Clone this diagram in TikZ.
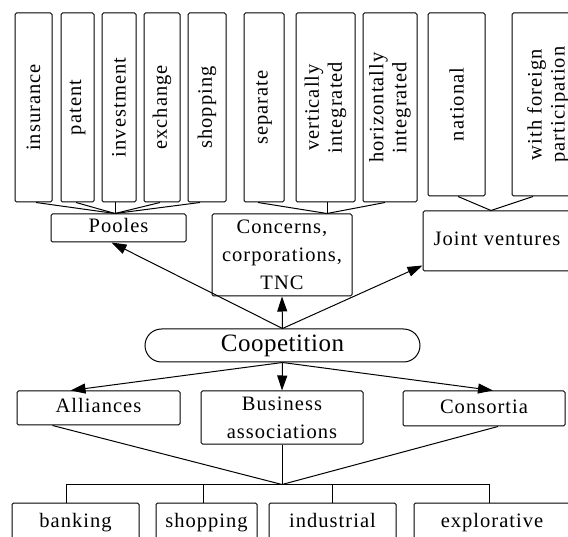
\documentclass[tikz,border=0pt]{standalone}
\usepackage{fontspec}
\setmainfont{Liberation Serif}[LetterSpace=5]
\newfontfamily\coopfont{Liberation Serif}[LetterSpace=2]
\usetikzlibrary{arrows.meta,calc}
\tikzset{
  box/.style={draw, rounded corners=1.5pt, inner sep=0pt, align=center,
    font=\fontsize{20.5}{28}\selectfont},
  vbox/.style={box, rotate=90, font=\fontsize{20.5}{23}\selectfont},
  one/.style={text height=14pt, text depth=4pt},
  arr/.style={-{Triangle[length=15pt,width=10pt]}},
}
\begin{document}
\begin{tikzpicture}[x=1pt,y=-1pt,line width=1pt]
\useasboundingbox (0,0) rectangle (568,537);
\clip (0,0) rectangle (568,537);
% top vertical boxes
\node[vbox, minimum width=189, minimum height=37] (ins) at (33.5,107.5) {insurance};
\node[vbox, minimum width=189, minimum height=33] (pat) at (77.5,107.5) {patent};
\node[vbox, minimum width=189, minimum height=34] (inv) at (119,107.5) {investment};
\node[vbox, minimum width=189, minimum height=36] (exc) at (162,107.5) {exchange};
\node[vbox, minimum width=189, minimum height=38] (shp) at (207,107.5) {shopping};
\node[vbox, minimum width=189, minimum height=40] (sep) at (264,107.5) {separate};
\node[vbox, minimum width=189, minimum height=59] (ver) at (325.5,107.5) {vertically\\integrated};
\node[vbox, minimum width=189, minimum height=54] (hor) at (390,107.5) {horizontally\\integrated};
\node[vbox, minimum width=183, minimum height=57] (nat) at (456.5,104.5) {national};
\node[vbox, minimum width=183, minimum height=72] (for) at (548,104.5) {with foreign\\participation};
% middle row
\node[box, one, minimum width=135, minimum height=28] (pool) at (118.5,228) {Pooles};
\node[box, minimum width=140, minimum height=82] (conc) at (282,255) {Concerns,\\corporations,\\TNC};
\node[box, one, minimum width=148, minimum height=60] (joint) at (497,241) {Joint ventures};
\node[draw, rounded corners=16.5pt, minimum width=275, minimum height=33, inner sep=0pt,
  font=\coopfont\fontsize{25}{30}\selectfont] (coop) at (282.5,345.5) {Coopetition};
\node[box, one, minimum width=163, minimum height=34] (all) at (98.5,408) {Alliances};
\node[box, minimum width=162, minimum height=53] (bus) at (282,417.5) {Business\\associations};
\node[box, one, minimum width=162, minimum height=35] (cons) at (484,408.5) {Consortia};
% bottom row
\node[box, one, minimum width=127, minimum height=38] (bank) at (75.5,522) {banking};
\node[box, one, minimum width=101, minimum height=38] (bshp) at (206.5,522) {shopping};
\node[box, one, minimum width=127, minimum height=38] (ind) at (332.5,522) {industrial};
\node[box, one, minimum width=156, minimum height=38] (expl) at (492,522) {explorative};
% junction points
\coordinate (ptop) at ([xshift=-3.5pt]pool.north);
\coordinate (ctop) at ([xshift=45pt]conc.north);
\coordinate (jtop) at ([xshift=-6pt]joint.north);
\coordinate (hub) at ([yshift=-40pt]bus.south);
% top connectors
\draw ([xshift=2.5pt]ins.west) -- (ptop);
\draw ([xshift=-1.5pt]pat.west) -- (ptop);
\draw (ptop |- inv.west) -- (ptop);
\draw ([xshift=-2pt]exc.west) -- (ptop);
\draw ([xshift=-7pt]shp.west) -- (ptop);
\draw ([xshift=-6pt]sep.west) -- (ctop);
\draw (ctop |- ver.west) -- (ctop);
\draw ([xshift=-5pt]hor.west) -- (ctop);
\draw ([xshift=1.5pt]nat.west) -- (jtop);
\draw ([xshift=-15pt]for.west) -- (jtop);
% arrows from coopetition
\draw[arr] (coop.north) -- ([xshift=-7pt]pool.south);
\draw[arr] (coop.north) -- (conc.south);
\draw[arr] (coop.north) -- ([yshift=6pt]joint.south west);
\draw[arr] (coop.south) -- ([xshift=-28pt]all.north);
\draw[arr] (coop.south) -- (bus.north);
\draw[arr] (coop.south) -- ([xshift=9pt]cons.north);
% lower connectors
\draw ([xshift=-46pt]all.south) -- (hub);
\draw (bus.south) -- (hub);
\draw ([xshift=14pt]cons.south) -- (hub);
\draw ([xshift=-9.5pt]bank.north) |- (hub) -| ([xshift=-3pt]expl.north);
\draw ([xshift=-3.5pt]bshp.north) -- ([xshift=-3.5pt]bshp.north |- hub);
\draw (ind.north) -- (ind.north |- hub);
\end{tikzpicture}
\end{document}
